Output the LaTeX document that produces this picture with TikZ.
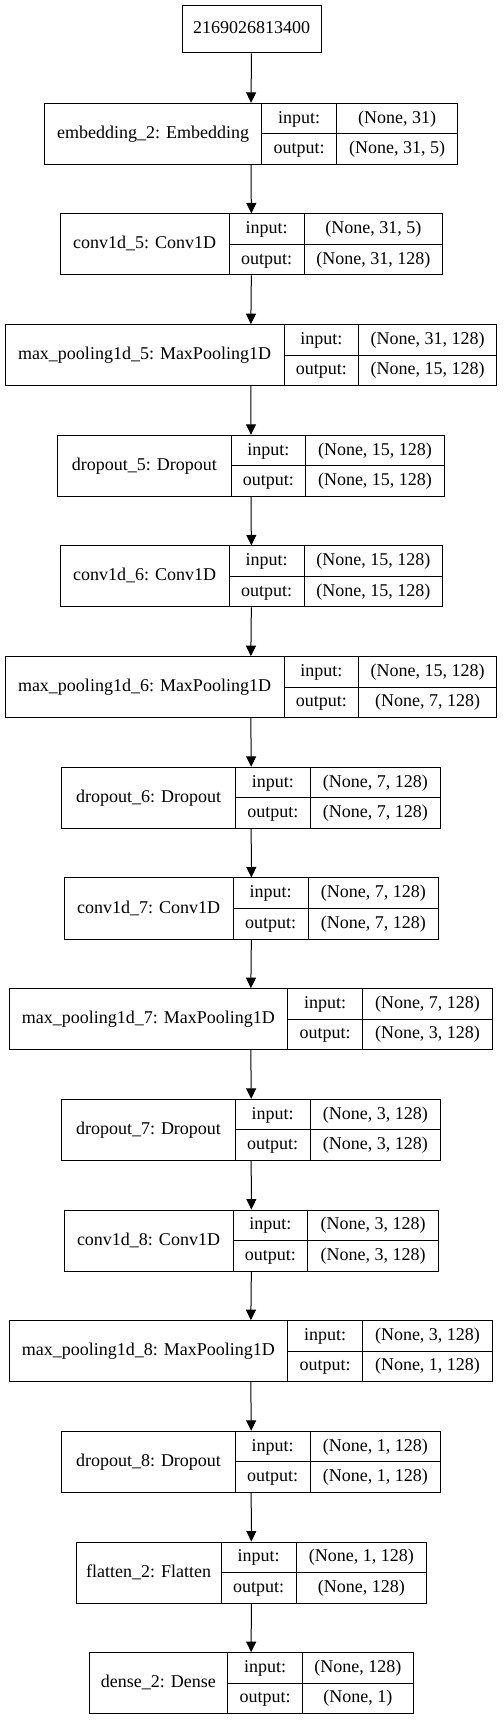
\documentclass[tikz,border=0pt]{standalone}
\usepackage{fontspec}
\setmainfont{Liberation Serif}
\usepackage{tikz}
\usetikzlibrary{arrows.meta}

\begin{document}
\begin{tikzpicture}[x=1pt,y=-1pt,
    cell/.style={draw, line width=1pt, inner sep=0pt, text height=12.5pt, text depth=3.5pt,
      font=\fontsize{18}{21}\selectfont},
    flow/.style={line width=1pt, -{Triangle[length=10.5pt,width=10pt]}}]
  \useasboundingbox (0,0) rectangle (503,1720);
  \node[cell, minimum width=139pt, minimum height=47pt] (top) at (251.5,29.5) {2169026813400};
  % one record per layer: name | input:/output: | shapes
  \foreach \nm/\txt/\vin/\vout/\xl/\xa/\xb/\xr [count=\i, remember=\nm as \prev (initially top)] in {
      emb/{embedding\_2: Embedding}/{(None, 31)}/{(None, 31, 5)}/44.3/261.7/336.7/457.7,
      conv5/{conv1d\_5: Conv1D}/{(None, 31, 5)}/{(None, 31, 128)}/60/229.3/304/442.7,
      pool5/{max\_pooling1d\_5: MaxPooling1D}/{(None, 31, 128)}/{(None, 15, 128)}/5/284/358.7/496.7,
      drop5/{dropout\_5: Dropout}/{(None, 15, 128)}/{(None, 15, 128)}/57.7/231/305.7/444.3,
      conv6/{conv1d\_6: Conv1D}/{(None, 15, 128)}/{(None, 15, 128)}/60/229.3/304/442.7,
      pool6/{max\_pooling1d\_6: MaxPooling1D}/{(None, 15, 128)}/{(None, 7, 128)}/5/284/358.7/496.7,
      drop6/{dropout\_6: Dropout}/{(None, 7, 128)}/{(None, 7, 128)}/61.7/235.7/310/440.7,
      conv7/{conv1d\_7: Conv1D}/{(None, 7, 128)}/{(None, 7, 128)}/64/233.3/308/438.7,
      pool7/{max\_pooling1d\_7: MaxPooling1D}/{(None, 7, 128)}/{(None, 3, 128)}/9/287.7/362.3/492.7,
      drop7/{dropout\_7: Dropout}/{(None, 3, 128)}/{(None, 3, 128)}/61.7/235.3/310/440.7,
      conv8/{conv1d\_8: Conv1D}/{(None, 3, 128)}/{(None, 3, 128)}/64/233/307.7/438.7,
      pool8/{max\_pooling1d\_8: MaxPooling1D}/{(None, 3, 128)}/{(None, 1, 128)}/9/287.7/362.3/492.7,
      drop8/{dropout\_8: Dropout}/{(None, 1, 128)}/{(None, 1, 128)}/61.7/235.3/310/440.7,
      flat2/{flatten\_2: Flatten}/{(None, 1, 128)}/{(None, 128)}/76/221/296/426.7,
      dense2/{dense\_2: Dense}/{(None, 128)}/{(None, 1)}/89/227.7/302.3/413.3} {
    \pgfmathsetmacro{\yt}{103.3+110.67*(\i-1)}
    \node[cell, minimum width={(\xr-\xl)*1pt}, minimum height=61pt] (\nm) at ({(\xl+\xr)/2},{\yt+30.5}) {};
    \node[cell, minimum width={(\xa-\xl)*1pt}, minimum height=61pt] (\nm-name) at ({(\xl+\xa)/2},{\yt+30.5}) {\txt};
    \node[cell, minimum width={(\xb-\xa)*1pt}, minimum height=30.5pt] (\nm-inl) at ({(\xa+\xb)/2},{\yt+15.25}) {input:};
    \node[cell, minimum width={(\xb-\xa)*1pt}, minimum height=30.5pt] (\nm-outl) at ({(\xa+\xb)/2},{\yt+45.75}) {output:};
    \node[cell, minimum width={(\xr-\xb)*1pt}, minimum height=30.5pt] (\nm-inv) at ({(\xb+\xr)/2},{\yt+15.25}) {\vin};
    \node[cell, minimum width={(\xr-\xb)*1pt}, minimum height=30.5pt] (\nm-outv) at ({(\xb+\xr)/2},{\yt+45.75}) {\vout};
    \draw[flow] (\prev.south) -- (\nm.north);
  }
\end{tikzpicture}
\end{document}
